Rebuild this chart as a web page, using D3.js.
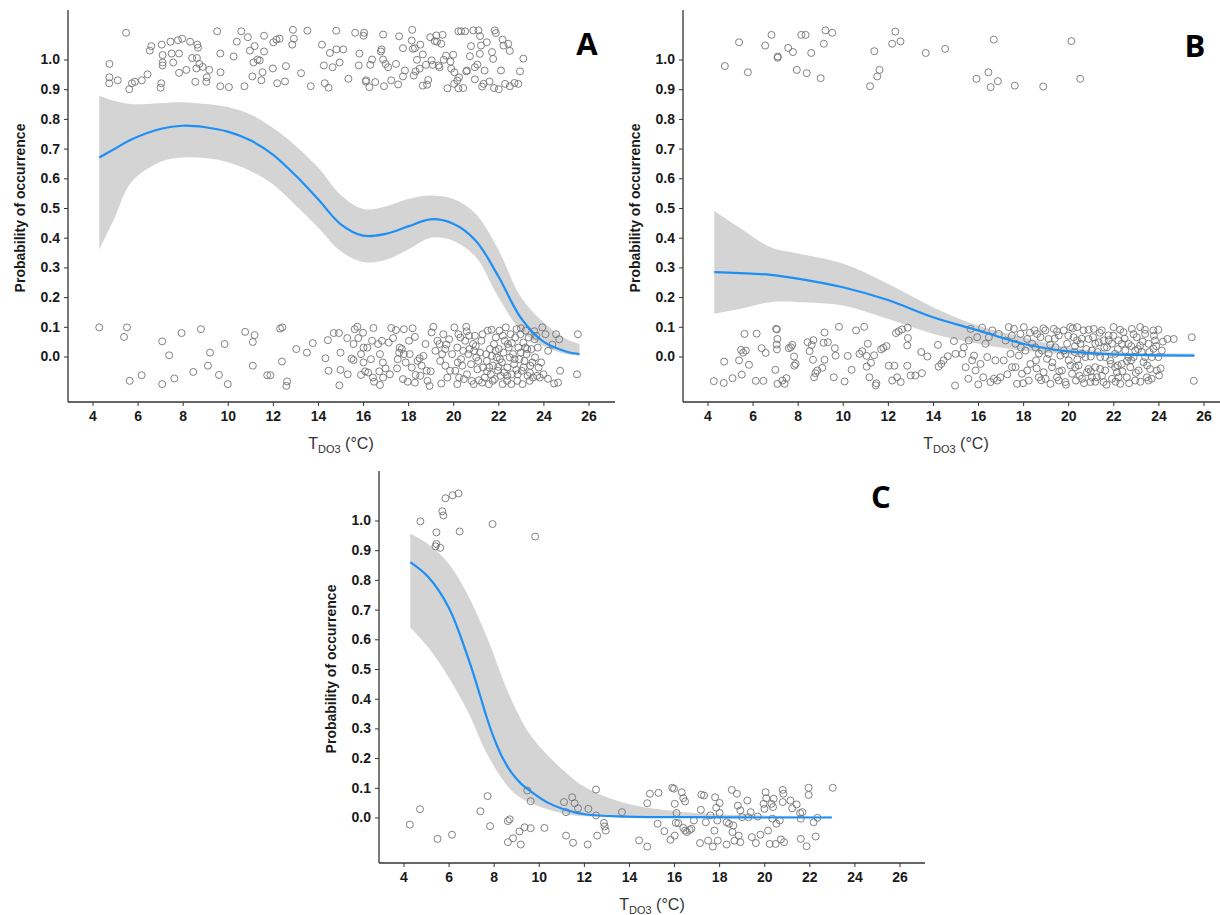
<!DOCTYPE html>
<html lang="en">
<head>
<meta charset="UTF-8">
<title>Probability of occurrence vs TDO3</title>
<script src="https://d3js.org/d3.v7.min.js"></script>
<style>
  body { margin: 0; background: #fff; }
  svg { display: block; }
</style>
</head>
<body>
<div id="chart"></div>

<script>
    // ---- data ----
    var xTicks = [4, 6, 8, 10, 12, 14, 16, 18, 20, 22, 24, 26];
    var yTicks = [0, 0.1, 0.2, 0.3, 0.4, 0.5, 0.6, 0.7, 0.8, 0.9, 1.0];

    // panel A : fitted curve + confidence band
    var fitA_x   = [4.3, 5, 5.7, 7, 8, 9, 10, 11, 12, 13, 14, 15, 16, 17, 18, 19, 20, 21, 22, 23, 24, 25, 25.6];
    var fitA     = [0.67, 0.70, 0.73, 0.766, 0.777, 0.772, 0.757, 0.728, 0.68, 0.61, 0.53, 0.446, 0.407, 0.413, 0.438, 0.462, 0.447, 0.39, 0.27, 0.13, 0.05, 0.017, 0.008];
    var bandA_x  = [4.3, 5, 5.7, 7, 8, 9, 10, 11, 12, 13, 14, 15, 16, 17, 18, 19, 20, 21, 22, 23, 24, 25, 25.6];
    var hiA      = [0.878, 0.86, 0.85, 0.853, 0.856, 0.85, 0.84, 0.815, 0.77, 0.71, 0.637, 0.545, 0.497, 0.505, 0.53, 0.542, 0.53, 0.48, 0.36, 0.2, 0.115, 0.06, 0.043];
    var loA      = [0.36, 0.47, 0.585, 0.655, 0.67, 0.668, 0.654, 0.625, 0.58, 0.51, 0.435, 0.355, 0.318, 0.325, 0.36, 0.40, 0.39, 0.335, 0.20, 0.087, 0.035, 0.008, 0.003];

    // panel B
    var fitB_x   = [4.3, 5.4, 6.8, 8, 10, 12, 14, 16, 18, 20, 22, 25.6];
    var fitB     = [0.284, 0.281, 0.275, 0.262, 0.233, 0.19, 0.132, 0.088, 0.043, 0.017, 0.007, 0.003];
    var bandB_x  = [4.3, 5.4, 6.8, 8, 10, 12, 14, 16, 18, 20, 22, 25.6];
    var hiB      = [0.49, 0.435, 0.368, 0.347, 0.313, 0.245, 0.166, 0.104, 0.065, 0.03, 0.015, 0.01];
    var loB      = [0.144, 0.16, 0.183, 0.183, 0.172, 0.127, 0.077, 0.043, 0.02, 0.007, 0.002, 0.0];

    // panel C
    var fitC_x   = [4.3, 5.1, 6, 6.9, 7.4, 7.7, 8.0, 8.4, 8.8, 9.2, 9.7, 10.4, 11.1, 12.1, 13.9, 16.5, 20, 23];
    var fitC     = [0.86, 0.81, 0.708, 0.53, 0.41, 0.335, 0.27, 0.2, 0.15, 0.115, 0.085, 0.05, 0.028, 0.01, 0.003, 0.001, 0, 0];
    var bandC_x  = [4.3, 5.1, 6, 6.9, 7.7, 8.8, 9.7, 11.1, 12.1, 13.9, 16.5, 20, 23];
    var hiC      = [0.956, 0.92, 0.855, 0.742, 0.607, 0.394, 0.27, 0.158, 0.10, 0.047, 0.018, 0.007, 0.003];
    var loC      = [0.64, 0.573, 0.472, 0.35, 0.215, 0.09, 0.047, 0.013, 0.004, 0.001, 0, 0, 0];

    // jittered observations [temperature, jittered 0/1]
    var obsA_present = [[5.49,1.09],[4.75,0.985],[4.75,0.94],[4.74,0.92],[5.12,0.93],[5.63,0.90],[5.75,0.92],[5.88,0.925],[6.19,0.93],[6.44,0.95],[6.54,1.03],[6.61,1.045],[7.07,1.05],[7.11,1.015],[7.11,0.99],[7.11,0.98],[7.02,0.905],[7.05,0.92],[7.46,1.06],[7.58,0.99],[7.51,1.02],[7.79,1.065],[7.98,1.07],[7.84,1.02],[7.84,0.955],[8.16,0.965],[8.33,1.06],[8.42,1.005],[8.56,0.925],[8.65,1.05],[8.68,1.04],[8.63,1.005],[8.61,0.97],[8.74,0.985],[8.89,0.975],[9.05,0.925],[9.07,0.94],[9.18,0.965],[9.67,0.91],[9.68,0.957],[9.67,1.02],[9.53,1.095],[10.05,0.907],[10.26,1.01],[10.40,1.06],[10.60,1.095],[10.74,0.91],[10.89,1.075],[10.98,1.03],[11.14,0.99],[11.09,0.943],[11.19,1.045],[11.32,1.0],[11.42,0.997],[11.49,0.93],[11.54,0.957],[11.61,1.08],[11.61,1.027],[12.02,1.058],[12.0,0.97],[12.16,1.067],[12.30,1.07],[12.19,0.92],[12.54,0.926],[12.58,0.978],[12.89,1.10],[12.93,1.07],[12.86,1.05],[13.25,0.954],[13.53,1.097],[13.68,0.91],[14.18,1.05],[14.26,0.98],[14.30,0.92],[14.47,0.905],[14.53,1.022],[14.81,1.097],[14.82,1.034],[14.96,0.99],[15.12,1.034],[15.65,1.09],[15.84,1.02],[15.81,0.98],[16.02,1.08],[16.05,1.09],[16.12,0.926],[16.32,0.982],[16.28,0.907],[16.54,0.924],[16.79,1.027],[16.82,1.034],[16.89,1.084],[16.93,0.91],[16.89,1.0],[17.0,0.985],[17.25,0.93],[17.60,1.078],[17.56,0.916],[17.77,1.038],[17.77,0.943],[17.86,0.963],[18.18,1.10],[18.16,1.064],[18.21,1.036],[18.30,1.038],[18.39,0.999],[18.33,0.96],[18.54,1.05],[18.65,1.017],[18.65,0.912],[18.79,0.982],[18.89,0.931],[18.84,0.915],[18.98,1.075],[19.09,0.982],[19.18,1.062],[19.28,1.06],[19.25,1.081],[19.35,0.98],[19.53,1.083],[19.47,1.053],[19.58,0.999],[19.68,1.013],[19.74,0.903],[19.88,0.993],[20.0,1.016],[20.04,0.918],[20.05,0.957],[20.18,0.929],[20.23,1.095],[20.35,1.095],[20.44,0.904],[20.23,0.903],[20.53,1.095],[20.58,0.96],[20.74,1.011],[20.79,1.045],[20.89,1.098],[20.96,0.933],[21.07,0.983],[21.12,1.098],[21.18,1.019],[21.19,1.079],[21.23,1.047],[21.28,0.909],[21.35,0.918],[21.39,0.963],[21.49,1.058],[21.61,0.926],[21.72,1.025],[21.77,1.002],[21.84,1.098],[21.81,0.904],[21.89,1.089],[22.02,0.90],[22.12,0.963],[22.19,1.067],[22.23,1.047],[22.30,0.918],[22.44,1.053],[22.51,1.029],[22.51,0.91],[22.72,0.921],[22.89,0.918],[22.96,0.96],[23.11,1.003],[20.96,0.974],[20.61,0.963],[20.26,0.94],[19.91,0.969],[19.39,0.974],[19.04,0.997],[18.51,0.969],[18.25,0.946],[17.46,0.985],[17.11,0.974],[16.40,1.0],[16.14,0.93],[15.35,0.935],[14.65,0.974]];

    var obsA_absent = [[4.30,0.098],[5.53,0.098],[5.40,0.066],[5.65,-0.082],[6.18,-0.063],[7.09,0.051],[7.09,-0.093],[7.40,0.004],[7.63,-0.074],[7.95,0.079],[8.47,-0.052],[8.81,0.092],[9.12,-0.031],[9.21,0.013],[9.61,-0.062],[9.86,0.042],[10.0,-0.093],[10.77,0.083],[11.19,0.072],[11.11,0.049],[11.11,-0.031],[11.75,-0.063],[11.89,-0.063],[12.32,0.094],[12.42,0.098],[12.40,-0.017],[12.63,-0.084],[12.60,-0.099],[13.04,0.025],[13.51,0.013],[13.77,0.045],[14.33,-0.006],[14.44,0.055],[14.47,-0.048],[14.70,0.079],[14.93,0.079],[15.0,0.013],[15.0,-0.045],[14.95,-0.097],[15.30,0.062],[15.32,-0.06],[15.49,-0.007],[15.58,-0.012],[15.58,0.042],[15.63,0.092],[15.75,0.10],[15.79,0.062],[15.91,-0.062],[16.02,-0.02],[16.02,0.03],[16.19,0.03],[16.09,-0.05],[16.23,-0.054],[16.35,-0.009],[16.40,0.053],[16.46,0.096],[16.49,-0.085],[16.44,-0.071],[16.67,0.042],[16.72,-0.05],[16.75,-0.096],[16.84,0.053],[16.88,-0.02],[16.89,-0.071],[17.14,0.047],[17.25,0.096],[17.33,0.062],[17.46,0.089],[17.51,-0.04],[17.60,0.013],[17.63,0.03],[17.72,0.025],[17.81,0.092],[17.77,-0.076],[17.81,0.008],[17.89,-0.02],[17.98,-0.085],[18.04,0.053],[18.16,-0.037],[18.30,0.066],[18.33,-0.062],[18.42,-0.015],[18.51,-0.006],[18.60,-0.031],[18.68,0.002],[18.82,-0.048],[18.86,-0.082],[18.95,-0.099],[19.04,0.081],[19.12,0.10],[19.21,0.019],[19.30,0.053],[19.39,0.042],[19.42,-0.015],[19.47,-0.091],[19.56,0.075],[19.65,-0.031],[19.74,-0.071],[19.82,0.058],[19.95,0.008],[20.05,0.098],[20.09,-0.048],[20.18,0.03],[20.23,0.075],[20.26,-0.071],[20.32,0.064],[20.35,-0.009],[20.40,-0.031],[20.44,0.019],[20.53,0.053],[20.58,0.10],[20.61,-0.06],[20.67,0.008],[20.72,0.025],[20.79,-0.026],[20.82,-0.082],[20.88,0.042],[20.91,-0.093],[20.96,0.07],[21.02,-0.003],[21.07,-0.043],[21.14,-0.08],[21.19,0.013],[21.25,0.053],[21.32,-0.037],[21.40,-0.071],[21.49,-0.015],[21.53,0.087],[21.58,-0.093],[21.63,0.025],[21.67,-0.06],[21.72,0.002],[21.77,-0.031],[21.81,0.042],[21.84,-0.076],[21.89,0.064],[21.93,-0.003],[21.98,-0.048],[22.02,0.025],[22.05,0.087],[22.10,-0.065],[22.16,-0.02],[22.19,-0.093],[22.23,0.013],[22.28,0.053],[22.33,0.098],[22.39,-0.082],[22.40,-0.037],[22.46,0.03],[22.51,-0.003],[22.54,0.075],[22.60,-0.06],[22.65,0.008],[22.70,-0.026],[22.75,0.064],[22.81,0.092],[22.84,-0.082],[22.89,0.03],[22.93,-0.009],[22.98,0.075],[23.04,-0.048],[23.07,-0.093],[23.11,0.047],[23.16,-0.015],[23.21,0.087],[23.25,0.008],[23.30,-0.065],[23.35,0.064],[23.42,-0.031],[23.47,0.025],[23.54,-0.071],[23.61,0.058],[23.63,-0.003],[23.72,-0.065],[23.75,0.03],[23.84,-0.071],[23.95,0.098],[24.0,-0.06],[24.09,0.075],[24.21,0.019],[24.47,-0.091],[24.56,0.075],[24.65,-0.088],[24.70,0.058],[24.74,-0.048],[25.53,0.075],[25.49,-0.06],[17.54,-0.009],[18.07,0.008],[18.54,-0.065],[18.77,0.042],[19.51,0.008],[19.86,-0.048],[20.47,-0.076],[20.70,0.07],[20.93,0.019],[21.11,-0.015],[21.28,-0.088],[21.46,0.008],[21.60,-0.037],[21.75,-0.082],[21.88,0.019],[22.07,-0.009],[22.26,-0.054],[22.42,0.042],[22.58,-0.093],[22.72,-0.009],[22.86,-0.06],[23.0,0.013],[23.12,-0.037],[23.28,0.025],[23.39,-0.082],[23.51,-0.02],[23.68,0.07],[23.79,-0.037],[16.75,0.008],[17.19,-0.06],[15.91,0.008],[18.30,-0.088],[19.65,0.025],[20.18,-0.093],
      [19.7,0.04],[20.2,-0.02],[20.6,0.085],[21.0,0.035],[21.3,0.075],[21.5,-0.05],[21.7,0.09],[22.0,-0.035],[22.2,0.07],[22.4,-0.065],[22.6,0.045],[22.8,-0.045],[23.0,0.095],[23.2,0.03],[23.4,-0.055],[23.6,0.085],[23.9,-0.02],[24.2,-0.075],[24.4,0.04],[19.0,-0.05],[18.2,0.095],[17.0,-0.04],[16.0,0.08]];

    var obsB_present = [[4.77,0.978],[5.40,1.058],[5.79,0.957],[6.56,1.047],[6.84,1.083],[7.11,1.006],[7.12,1.01],[7.58,1.039],[7.79,1.025],[7.96,0.965],[8.16,1.083],[8.35,1.083],[8.40,0.954],[8.60,1.022],[9.02,0.937],[9.16,1.053],[9.23,1.098],[9.53,1.09],[11.21,0.91],[11.40,1.028],[11.53,0.943],[11.63,0.965],[12.19,1.053],[12.33,1.094],[12.56,1.061],[13.68,1.022],[14.54,1.036],[15.93,0.935],[16.46,0.957],[16.56,0.907],[16.70,1.067],[16.88,0.927],[17.63,0.912],[18.89,0.909],[20.14,1.062],[20.53,0.935]];

    var obsB_absent = [[4.28,-0.083],[4.72,-0.089],[4.74,-0.017],[5.11,-0.073],[5.40,-0.013],[5.49,0.022],[5.52,-0.061],[5.64,0.076],[5.58,0.013],[5.70,0.02],[5.84,-0.028],[6.14,-0.082],[6.18,0.077],[6.40,0.028],[6.48,-0.082],[6.58,0.012],[7.01,-0.045],[7.04,0.093],[7.08,0.091],[7.10,0.059],[7.07,0.04],[7.08,0.024],[7.10,-0.092],[7.32,-0.081],[7.42,-0.092],[7.50,-0.073],[7.61,0.028],[7.70,0.031],[7.76,0.039],[7.84,0.0],[7.85,-0.031],[7.91,-0.025],[8.44,0.048],[8.53,0.018],[8.62,0.039],[8.70,0.055],[8.68,-0.011],[8.73,-0.07],[8.79,-0.056],[8.87,-0.047],[9.09,-0.038],[9.19,0.081],[9.15,0.046],[9.34,0.048],[9.19,-0.011],[9.60,-0.07],[9.65,0.028],[9.68,0.003],[9.83,0.10],[10.08,-0.084],[10.22,0.002],[10.39,-0.045],[10.59,0.088],[10.74,0.009],[10.86,0.018],[10.95,0.10],[11.06,0.002],[11.11,0.043],[11.06,-0.034],[11.18,-0.07],[11.25,-0.021],[11.39,0.004],[11.46,-0.097],[11.49,-0.09],[11.70,0.024],[11.80,0.029],[11.94,0.035],[12.04,-0.031],[12.19,-0.081],[12.29,-0.031],[12.36,0.079],[12.48,0.085],[12.41,-0.07],[12.57,-0.086],[12.63,0.091],[12.88,0.097],[12.89,0.062],[12.86,0.037],[12.86,-0.031],[13.01,-0.064],[13.22,-0.064],[13.48,0.015],[13.51,-0.056],[13.75,0.0],[14.22,0.039],[14.25,-0.034],[14.37,-0.025],[14.47,-0.013],[14.66,0.001],
      [14.98,-0.098],[15.0,0.009],[14.93,0.052],[15.30,0.009],[15.37,0.031],[15.45,-0.036],[15.57,-0.075],[15.59,0.054],[15.67,0.093],[15.74,-0.013],[15.82,0.003],[15.89,-0.047],[15.96,0.065],[16.01,-0.094],[16.11,-0.025],[16.18,0.097],[16.23,-0.07],[16.33,0.043],[16.41,-0.002],[16.48,0.065],[16.55,-0.086],[16.63,0.088],[16.70,-0.075],[16.77,-0.013],[16.85,-0.081],[16.92,0.076],[16.99,-0.07],[17.14,-0.013],[17.22,0.054],[17.36,0.099],[17.44,0.009],[17.51,-0.036],[17.59,0.093],[17.66,0.043],[17.73,-0.092],[17.81,0.003],[17.88,0.076],[17.95,-0.058],[18.03,0.099],[18.10,0.02],[18.18,-0.047],[18.25,-0.081],[18.32,-0.025],[18.40,0.043],[18.51,0.088],[18.57,-0.013],[18.62,0.076],[18.69,-0.07],[18.77,0.065],[18.84,0.02],[18.91,-0.053],[18.99,0.088],[19.06,-0.008],[19.13,0.059],[19.21,-0.092],[19.28,-0.036],[19.36,0.093],[19.43,0.031],[19.50,-0.07],[19.58,0.071],[19.65,0.003],[19.72,-0.047],[19.80,0.088],[19.87,-0.086],[19.95,0.043],[20.02,-0.013],[20.09,0.099],[20.17,-0.058],[20.24,0.065],[20.28,0.015],[20.34,-0.081],[20.40,0.099],[20.46,-0.03],[20.54,0.043],[20.61,-0.075],[20.68,0.088],[20.76,-0.002],[20.83,-0.053],[20.90,0.059],[20.98,-0.086],[21.05,0.02],[21.13,0.093],[21.20,-0.036],[21.27,-0.07],[21.35,0.048],[21.42,-0.002],[21.49,0.088],[21.57,-0.086],[21.64,-0.047],[21.72,0.031],[21.79,0.071],[21.86,-0.013],[21.94,-0.075],[22.01,0.099],[22.08,0.009],[22.16,-0.053],[22.23,0.054],[22.31,-0.092],[22.38,-0.025],[22.45,0.082],[22.53,0.02],[22.60,-0.07],[22.67,0.043],[22.75,-0.036],[22.82,0.093],[22.90,-0.002],[22.97,-0.081],[23.04,0.065],[23.12,-0.047],[23.19,0.099],[23.26,0.015],[23.34,-0.019],[23.41,0.076],[23.49,-0.07],[23.56,0.043],[23.63,-0.042],[23.71,-0.002],[23.78,0.088],[23.85,0.054],[23.93,-0.047],[24.0,-0.002],[24.03,-0.064],[24.15,0.02],[24.40,0.059],[24.68,0.059],[25.48,0.065],[25.57,-0.082],
      [19.87,0.009],[20.61,0.009],[21.20,0.043],[21.64,-0.002],[22.08,-0.036],[22.38,0.043],[22.79,-0.013],[23.19,0.037],[21.42,-0.042],[22.23,-0.07],[22.97,0.02],[20.31,-0.036],[20.90,-0.042],[19.58,-0.081],[19.13,0.009],[18.54,0.031],[18.18,0.059],[17.66,-0.036],[22.67,-0.002],[23.41,-0.002],[23.78,0.026],[23.56,-0.081],[21.94,0.043],[21.05,-0.07],[20.39,0.054],[21.57,0.054],
      [17.3,-0.06],[17.5,0.07],[17.9,0.03],[18.0,-0.09],[18.3,0.08],[18.6,-0.04],[18.7,0.01],[18.9,0.095],[19.0,-0.075],[19.2,0.04],[19.3,-0.02],[19.5,0.085],[19.6,-0.05],[19.8,0.02],[19.9,-0.095],[20.0,0.07],[20.1,-0.03],[20.2,0.095],[20.3,0.035],[20.5,-0.065],[20.6,0.06],[20.7,-0.09],[20.8,0.025],[20.9,0.09],[21.0,-0.05],[21.1,0.065],[21.2,-0.085],[21.3,0.015],[21.4,0.08],[21.5,-0.065],[21.6,0.03],[21.7,-0.095],[21.8,0.055],[21.9,-0.025],[22.0,0.07],[22.1,-0.085],[22.2,0.025],[22.3,0.09],[22.4,-0.05],[22.5,0.06],[22.6,-0.015],[22.7,-0.09],[22.8,0.035],[22.9,0.075],[23.0,-0.055],[23.1,0.025],[23.2,-0.085],[23.3,0.05],[23.4,0.09],[23.5,-0.03],[23.6,0.015],[23.7,-0.075],[23.8,0.07],[23.9,0.035],[24.0,0.09],[24.1,-0.04],[24.2,0.05],[22.2,-0.03],[21.0,0.0],[20.4,-0.01],[19.4,0.06],[18.8,-0.08]];

    var obsC_present = [[4.75,0.997],[5.42,0.913],[5.46,0.921],[5.63,0.908],[5.46,0.96],[5.72,1.031],[5.77,1.017],[5.86,1.075],[6.18,1.085],[6.44,1.091],[6.49,0.963],[7.95,0.988],[9.84,0.946]];

    var obsC_absent = [[4.28,-0.024],[4.73,0.028],[5.51,-0.072],[6.15,-0.058],[7.41,0.021],[7.73,0.072],[7.84,-0.029],[8.63,-0.012],[8.71,-0.006],[8.63,-0.083],[8.86,-0.07],[9.14,-0.047],[9.20,-0.091],[9.37,-0.033],[9.64,-0.036],[9.49,0.091],[9.64,0.055],[10.25,-0.035],[11.12,0.052],[11.21,0.018],[11.21,-0.061],[11.48,0.068],[11.59,0.048],[11.74,0.031],[11.52,-0.085],[12.17,-0.091],[12.20,0.029],[12.54,0.094],[12.54,0.007],[12.59,-0.061],[12.89,-0.018],[12.92,-0.03],[12.97,-0.044],[13.69,0.018],[14.45,-0.077],[14.81,-0.098],[14.81,0.048],[14.93,0.08],[15.31,0.083],[15.27,-0.021],[15.57,-0.046],[15.84,-0.075],[15.92,0.10],[16.0,0.097],[16.03,-0.061],[16.03,0.046],[16.11,0.015],[16.08,-0.018],[16.19,-0.019],[16.34,0.085],[16.41,0.065],[16.49,0.054],[16.41,-0.035],[16.49,-0.044],[16.57,-0.049],[16.69,-0.042],[16.77,-0.038],[16.88,-0.01],[17.19,0.026],[17.15,-0.086],[17.21,0.077],[17.33,0.074],[17.41,-0.016],[17.51,-0.078],[17.61,0.007],[17.72,-0.098],[17.79,-0.044],[17.82,0.068],[17.87,0.033],[17.92,-0.01],[18.02,0.049],[18.02,0.015],[17.94,-0.078],[18.33,-0.016],[18.33,-0.091],[18.44,-0.021],[18.56,0.093],[18.59,-0.049],[18.63,-0.027],[18.68,-0.078],[18.79,0.08],[18.83,0.04],[18.87,-0.061],[18.94,0.024],[18.94,-0.083],[19.02,0.001],[19.25,0.057],[19.30,0.001],[19.40,0.018],[19.45,-0.066],[19.63,-0.086],[19.71,0.003],[19.83,-0.058],[19.97,0.046],[20.01,0.029],[20.06,0.085],[20.09,0.065],[20.17,-0.044],[20.24,-0.089],[20.32,0.046],[20.36,-0.004],[20.39,0.035],[20.42,0.063],[20.51,-0.089],[20.54,-0.021],[20.69,-0.01],[20.74,-0.074],[20.82,0.093],[20.85,0.08],[20.82,0.052],[20.88,-0.083],[21.16,0.057],[21.24,0.031],[21.44,0.044],[21.59,0.015],[21.62,-0.004],[21.62,-0.072],[21.69,0.018],[21.88,-0.097],[21.97,0.10],[21.97,0.076],[22.19,-0.016],[22.28,-0.064],[22.36,-0.001],[23.04,0.10]];

    // ---- layout ----
    var W = 1220, H = 915;
    var plotH = 392;

    var panels = [
        { label: "A", left: 68,  top: 10,  axisLen: 547, lx: 519, ly: 45,
          fx: fitA_x, fit: fitA, bx: bandA_x, hi: hiA, lo: loA, obs: obsA_present.concat(obsA_absent) },
        { label: "B", left: 683, top: 10,  axisLen: 545, lx: 512, ly: 47,
          fx: fitB_x, fit: fitB, bx: bandB_x, hi: hiB, lo: loB, obs: obsB_present.concat(obsB_absent) },
        { label: "C", left: 379, top: 471, axisLen: 546, lx: 502, ly: 37,
          fx: fitC_x, fit: fitC, bx: bandC_x, hi: hiC, lo: loC, obs: obsC_present.concat(obsC_absent) }
    ];

    var svg = d3.select("#chart")
                .append("svg")
                .attr("width", W)
                .attr("height", H);

    svg.append("rect").attr("width", W).attr("height", H).attr("fill", "#fff");

    var x = d3.scaleLinear().domain([4, 26]).range([24.5, 520.5]);
    var y = d3.scaleLinear().domain([0, 1]).range([346.5, 49.5]);

    var tickFont = "'Liberation Sans', Arial, sans-serif";
    var smooth = d3.curveCatmullRom.alpha(0.5);

    panels.forEach(function(p) {
        var g = svg.append("g")
                   .attr("transform", "translate(" + p.left + "," + p.top + ")");

        var band = p.bx.map(function(v, i) { return { x: v, lo: p.lo[i], hi: p.hi[i] }; });
        var fit = p.fx.map(function(v, i) { return { x: v, v: p.fit[i] }; });

        var area = d3.area()
                     .x(function(d) { return x(d.x); })
                     .y0(function(d) { return y(d.lo); })
                     .y1(function(d) { return y(d.hi); })
                     .curve(smooth);

        var line = d3.line()
                     .x(function(d) { return x(d.x); })
                     .y(function(d) { return y(d.v); })
                     .curve(smooth);

        g.append("path")
         .datum(band)
         .attr("fill", "#d4d4d4")
         .attr("d", area);

        g.selectAll("circle.obs")
         .data(p.obs)
         .enter()
         .append("circle")
         .attr("class", "obs")
         .attr("cx", function(d) { return x(d[0]); })
         .attr("cy", function(d) { return y(d[1]); })
         .attr("r", 3.5)
         .attr("fill", "none")
         .attr("stroke", "#747474")
         .attr("stroke-width", 0.9);

        g.append("path")
         .datum(fit)
         .attr("fill", "none")
         .attr("stroke", "#1e8ff5")
         .attr("stroke-width", 2.2)
         .attr("d", line);

        // y axis
        var yAxis = d3.axisLeft(y)
                      .tickValues(yTicks)
                      .tickFormat(d3.format(".1f"))
                      .tickSize(4)
                      .tickPadding(4);
        var ya = g.append("g").call(yAxis);
        ya.select(".domain").remove();
        ya.selectAll("text")
          .attr("font-family", tickFont)
          .attr("font-weight", "bold")
          .attr("font-size", 14)
          .attr("fill", "#1a1a1a");
        ya.selectAll("line").attr("stroke", "#333");

        // x axis
        var xAxis = d3.axisBottom(x)
                      .tickValues(xTicks)
                      .tickSize(4)
                      .tickPadding(5);
        var xa = g.append("g")
                  .attr("transform", "translate(0," + plotH + ")")
                  .call(xAxis);
        xa.select(".domain").remove();
        xa.selectAll("text")
          .attr("font-family", tickFont)
          .attr("font-weight", "bold")
          .attr("font-size", 14)
          .attr("fill", "#1a1a1a");
        xa.selectAll("line").attr("stroke", "#333");

        // axis lines
        g.append("line")
         .attr("x1", 0).attr("x2", 0)
         .attr("y1", 0).attr("y2", plotH)
         .attr("stroke", "#333").attr("stroke-width", 1.3);
        g.append("line")
         .attr("x1", 0).attr("x2", p.axisLen)
         .attr("y1", plotH).attr("y2", plotH)
         .attr("stroke", "#333").attr("stroke-width", 1.3);

        // axis titles
        g.append("text")
         .attr("transform", "translate(-43," + (plotH / 2 + 2) + ") rotate(-90)")
         .attr("text-anchor", "middle")
         .attr("font-family", tickFont)
         .attr("font-weight", "bold")
         .attr("font-size", 14)
         .attr("fill", "#1a1a1a")
         .text("Probability of occurrence");

        var xt = g.append("text")
                  .attr("x", 273)
                  .attr("y", plotH + 47)
                  .attr("text-anchor", "middle")
                  .attr("font-family", tickFont)
                  .attr("font-size", 16)
                  .attr("fill", "#333");
        xt.append("tspan").text("T");
        xt.append("tspan").attr("font-size", 11).attr("dy", 4).text("DO3");
        xt.append("tspan").attr("dy", -4).text(" (\u00B0C)");

        // panel letter
        g.append("text")
         .attr("x", p.lx)
         .attr("y", p.ly)
         .attr("text-anchor", "middle")
         .attr("font-family", "'Open Sans', 'Liberation Sans', sans-serif")
         .attr("font-weight", "bold")
         .attr("font-size", 31)
         .attr("fill", "#000")
         .text(p.label);
    });
</script>
</body>
</html>
